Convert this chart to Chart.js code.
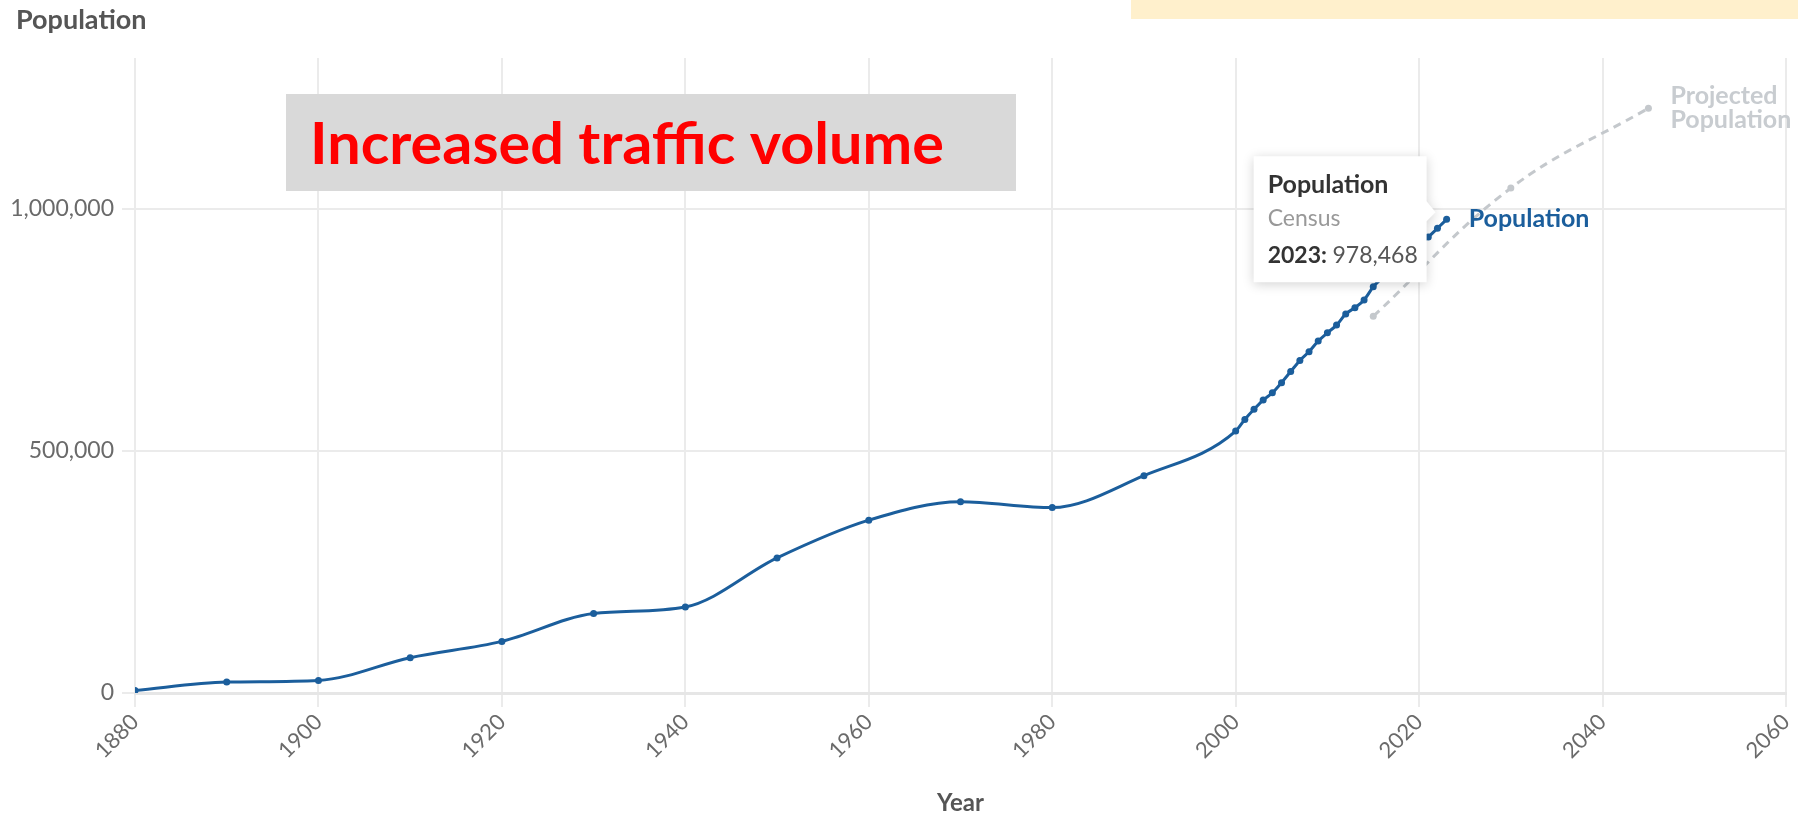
<!DOCTYPE html>
<html lang="en">
<head>
  <meta charset="UTF-8">
  <title>Population</title>
  <script src="https://cdn.jsdelivr.net/npm/chart.js"></script>
  <style>
    html, body { margin: 0; padding: 0; background: #fff; }
  </style>
</head>
<body>
  <canvas id="popChart" width="1798" height="818"></canvas>

<script>
  // census values (2016-2020 sit under the tooltip)
  const censusYears = [1880, 1890, 1900, 1910, 1920, 1930, 1940, 1950, 1960, 1970, 1980, 1990, 2000,
    2001, 2002, 2003, 2004, 2005, 2006, 2007, 2008, 2009, 2010, 2011, 2012,
    2013, 2014, 2015, 2016, 2017, 2018, 2019, 2020, 2021, 2022, 2023];
  const censusValues = [5000, 22700, 26000, 73000, 106600, 164000, 177700, 279000, 357000, 395000, 383000, 449000, 541000,
    565000, 586000, 605000, 620000, 641000, 664000, 687000, 705000, 727000, 744000, 760000, 783000,
    796000, 812000, 839000, 858000, 876000, 893000, 910000, 926000, 942000, 960000, 978468];

  const projYears = [2015, 2030, 2045];
  const projValues = [778000, 1043000, 1208000];

  const xTicks = [1880, 1900, 1920, 1940, 1960, 1980, 2000, 2020, 2040, 2060];
  const yTicks = [0, 500000, 1000000];
  const yMax = 1311700;

  const blue = "#1b5e9c";
  const grey = "#c4c8cc";
  const FONT = "Lato, 'Open Sans', sans-serif";

  const toPoints = (xs, ys) => xs.map((x, i) => ({ x: x, y: ys[i] }));

  // extra drawing: title, note box, series labels, tooltip
  const overlay = {
    id: "overlay",
    beforeDraw(chart) {
      const ctx = chart.ctx;
      ctx.save();
      ctx.fillStyle = "#fff";
      ctx.fillRect(0, 0, chart.width, chart.height);
      ctx.fillStyle = "#fff0cc";   // cropped banner at the top
      ctx.fillRect(1131, 0, chart.width - 1131, 19);
      ctx.restore();
    },
    afterDraw(chart) {
      const ctx = chart.ctx;
      const xs = chart.scales.x, ys = chart.scales.y;
      ctx.save();

      // y axis title
      ctx.fillStyle = "#555";
      ctx.font = "bold 27px " + FONT;
      ctx.textBaseline = "alphabetic";
      ctx.fillText("Population", 16, 29);

      // grey note box
      ctx.fillStyle = "#d9d9d9";
      ctx.fillRect(286, 94, 730, 97);
      ctx.font = "bold 58px " + FONT;
      const note = "Increased traffic volume";
      const w = ctx.measureText(note).width;
      ctx.save();
      ctx.translate(310, 164);
      ctx.scale(634 / w, 1);
      ctx.fillStyle = "#ff0000";
      ctx.fillText(note, 0, 0);
      ctx.restore();

      // series labels
      const lx = xs.getPixelForValue(censusYears[censusYears.length - 1]);
      const ly = ys.getPixelForValue(censusValues[censusValues.length - 1]);
      ctx.font = "bold 25px " + FONT;
      ctx.textBaseline = "middle";
      ctx.fillStyle = blue;
      ctx.fillText("Population", lx + 22, ly);

      const px = xs.getPixelForValue(projYears[projYears.length - 1]);
      const py = ys.getPixelForValue(projValues[projValues.length - 1]);
      ctx.fillStyle = "#c8ccd0";
      ctx.fillText("Projected", px + 22, py - 12);
      ctx.fillText("Population", px + 22, py + 12);

      // tooltip for 2023
      const bx = lx - 193, by = ly - 63, bw = 173, bh = 126;
      ctx.save();
      ctx.shadowColor = "rgba(0,0,0,0.18)";
      ctx.shadowBlur = 12;
      ctx.shadowOffsetY = 2;
      ctx.fillStyle = "#fff";
      ctx.beginPath();
      ctx.moveTo(bx, by);
      ctx.lineTo(bx + bw, by);
      ctx.lineTo(bx + bw, ly - 18);
      ctx.lineTo(bx + bw + 9, ly - 7);
      ctx.lineTo(bx + bw, ly + 2);
      ctx.lineTo(bx + bw, by + bh);
      ctx.lineTo(bx, by + bh);
      ctx.closePath();
      ctx.fill();
      ctx.restore();

      ctx.textBaseline = "alphabetic";
      ctx.fillStyle = "#333";
      ctx.font = "bold 25px " + FONT;
      ctx.fillText("Population", bx + 14, by + 37);
      ctx.fillStyle = "#999";
      ctx.font = "23px " + FONT;
      ctx.fillText("Census", bx + 14, by + 70);
      ctx.fillStyle = "#333";
      ctx.font = "bold 23px " + FONT;
      const yr = censusYears[censusYears.length - 1] + ":";
      ctx.fillText(yr, bx + 14, by + 107);
      const yw = ctx.measureText(yr + " ").width;
      ctx.fillStyle = "#555";
      ctx.font = "23px " + FONT;
      ctx.fillText(censusValues[censusValues.length - 1].toLocaleString("en-US"), bx + 14 + yw, by + 107);

      ctx.restore();
    }
  };

  const ctx = document.getElementById("popChart").getContext("2d");
  const popChart = new Chart(ctx, {
    type: "line",
    data: {
      datasets: [
        {
          label: "Projected Population",
          data: toPoints(projYears, projValues),
          borderColor: grey,
          backgroundColor: grey,
          borderWidth: 3,
          borderDash: [8, 6],
          pointRadius: 3.5,
          pointBorderWidth: 0,
          tension: 0.4,
        },
        {
          label: "Population",
          data: toPoints(censusYears, censusValues),
          borderColor: blue,
          backgroundColor: blue,
          borderWidth: 3,
          pointRadius: 3.5,
          pointBorderWidth: 0,
          cubicInterpolationMode: "monotone",
        },
      ],
    },
    options: {
      responsive: false,
      devicePixelRatio: 1,
      animation: false,
      events: [],
      layout: { padding: { top: 58, right: 12, bottom: 0, left: 0 } },
      plugins: {
        legend: { display: false },
        tooltip: { enabled: false },
      },
      scales: {
        x: {
          type: "linear",
          min: xTicks[0],
          max: xTicks[xTicks.length - 1],
          afterBuildTicks: s => { s.ticks = xTicks.map(v => ({ value: v })); },
          afterFit: s => { s.height = 125; s.paddingRight = 0; },
          grid: { color: "#ebebeb", lineWidth: 2, tickLength: 14 },
          border: { color: "#e6e6e6", width: 3 },
          ticks: {
            color: "#6a6a6a",
            font: { family: FONT, size: 22 },
            minRotation: 45,
            maxRotation: 45,
            padding: 2,
            callback: v => String(v),
          },
          title: {
            display: true,
            text: "Year",
            color: "#555",
            font: { family: FONT, size: 24, weight: "bold" },
            padding: { top: 0, bottom: 0 },
          },
        },
        y: {
          type: "linear",
          min: 0,
          max: yMax,
          afterBuildTicks: s => { s.ticks = yTicks.map(v => ({ value: v })); },
          afterFit: s => { s.width = 135; },
          grid: { color: "#ebebeb", lineWidth: 2, tickLength: 13 },
          border: { display: false },
          ticks: {
            color: "#6a6a6a",
            font: { family: FONT, size: 23 },
            padding: 8,
            callback: v => v.toLocaleString("en-US"),
          },
        },
      },
    },
    plugins: [overlay],
  });
</script>
</body>
</html>
